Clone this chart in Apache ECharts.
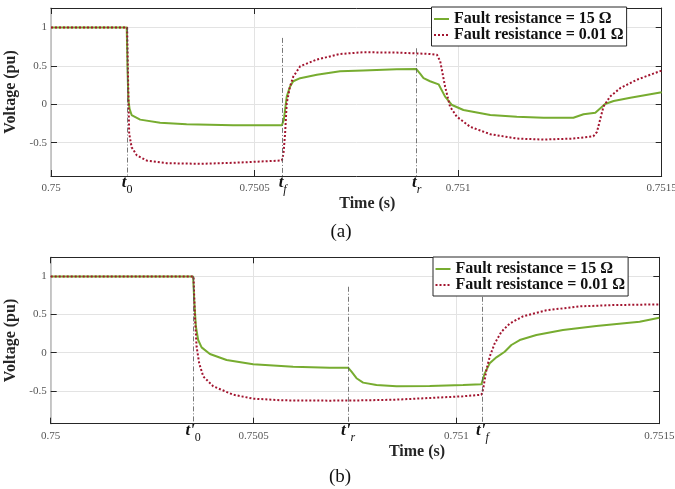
<!DOCTYPE html>
<html>
<head>
<meta charset="utf-8">
<script src="https://cdn.jsdelivr.net/npm/echarts@6/dist/echarts.min.js"></script>
<style>
  html, body { margin: 0; padding: 0; background: #fff; }
  #c { width: 675px; height: 489px; }
</style>
</head>
<body>
<div id="c"></div>
<script>
// ─── values ───────────────────────────────────────────────────────────────────
const xTicks = [0.75, 0.7505, 0.751, 0.7515];
const yTicks = [-0.5, 0, 0.5, 1];
const legendNames = ['Fault resistance = 15 Ω', 'Fault resistance = 0.01 Ω'];

// (a) 15 ohm
const aGreenT = [0.75, 0.750186, 0.750188, 0.75019, 0.750193, 0.750198, 0.750219, 0.750268, 0.750333, 0.750447,
  0.750567, 0.750572, 0.750579, 0.750587, 0.750595, 0.750612, 0.750653, 0.75071, 0.750767, 0.750849,
  0.750897, 0.750907, 0.750915, 0.750931, 0.750952, 0.750968, 0.750985, 0.751013, 0.751079, 0.751144,
  0.75121, 0.751283, 0.751308, 0.751337, 0.751361, 0.751382, 0.751423, 0.7515];
const aGreenV = [1, 1, 0.45, 0.06, -0.06, -0.14, -0.2, -0.24, -0.26, -0.275,
  -0.275, -0.2, 0.1, 0.23, 0.3, 0.34, 0.385, 0.43, 0.44, 0.455,
  0.46, 0.395, 0.34, 0.3, 0.26, 0.1, -0.01, -0.075, -0.14, -0.163,
  -0.175, -0.175, -0.13, -0.11, 0.004, 0.043, 0.086, 0.156];
// (a) 0.01 ohm
const aRedT = [0.75, 0.750187, 0.750189, 0.750192, 0.750198, 0.750211, 0.750235, 0.750284, 0.750366, 0.750448,
  0.750567, 0.750571, 0.750575, 0.750579, 0.750587, 0.750595, 0.750612, 0.750653, 0.75071, 0.750767,
  0.750849, 0.750931, 0.750948, 0.750956, 0.750968, 0.75098, 0.750997, 0.75103, 0.751079, 0.751144,
  0.75121, 0.751283, 0.751332, 0.751341, 0.751357, 0.751373, 0.751398, 0.751439, 0.7515];
const aRedV = [1, 1, 0.4, -0.38, -0.56, -0.667, -0.733, -0.768, -0.776, -0.763,
  -0.733, -0.645, -0.38, 0.013, 0.23, 0.36, 0.495, 0.583, 0.656, 0.678,
  0.674, 0.656, 0.645, 0.56, 0.23, -0.03, -0.163, -0.295, -0.39, -0.447,
  -0.46, -0.447, -0.417, -0.36, -0.03, 0.1, 0.21, 0.32, 0.44];

// (b) 15 ohm
const bGreenT = [0.75, 0.750351, 0.7503537, 0.7503579, 0.7503635, 0.7503719, 0.7503924, 0.7504335, 0.750499, 0.7505975,
  0.7506879, 0.750733, 0.7507414, 0.7507537, 0.75077, 0.750803, 0.7508522, 0.7509342, 0.7510162, 0.7510616,
  0.7510697, 0.751082, 0.7510985, 0.751119, 0.7511354, 0.751156, 0.751197, 0.7512625, 0.7513448, 0.7514515, 0.7515];
const bGreenV = [1, 1, 0.69, 0.34, 0.166, 0.07, -0.017, -0.096, -0.152, -0.183,
  -0.196, -0.196, -0.248, -0.334, -0.392, -0.422, -0.44, -0.435, -0.422, -0.413,
  -0.27, -0.139, -0.061, 0.013, 0.101, 0.166, 0.231, 0.297, 0.349, 0.405, 0.458];
// (b) 0.01 ohm
const bRedT = [0.75, 0.750352, 0.7503554, 0.7503596, 0.750366, 0.7503759, 0.7504005, 0.7504497, 0.750499, 0.7505729,
  0.7506879, 0.75077, 0.7508522, 0.7509342, 0.7510162, 0.7510616, 0.7510655, 0.7510739, 0.751082, 0.7510943,
  0.7511108, 0.7511313, 0.751164, 0.7512216, 0.7513037, 0.7513857, 0.7515];
const bRedV = [1, 1, 0.47, 0.078, -0.138, -0.31, -0.44, -0.55, -0.602, -0.624,
  -0.628, -0.624, -0.615, -0.593, -0.571, -0.55, -0.484, -0.225, -0.052, 0.122,
  0.274, 0.382, 0.477, 0.556, 0.607, 0.624, 0.633];

// event markers (time, where the dash-dot line starts, subscript)
const aMarkT = [0.750187, 0.750569, 0.750898];
const aMarkTop = [1, 0.865, 0.73];
const aMarkSub = ['0', 'f', 'r'];
const bMarkT = [0.750351, 0.750733, 0.751064];
const bMarkTop = [1, 0.864, 0.733];
const bMarkSub = ['0', 'r', 'f'];

const aYRange = [-0.935, 1.255];
const bYRange = [-0.93, 1.25];

// ─── chart ───────────────────────────────────────────────────────────────────
const SERIF = '"Liberation Serif", "Times New Roman", serif';
const INK = '#262626';
const GREEN = '#77AC30';
const RED = '#A2142F';
const zip = (t, v) => t.map((x, i) => [x, v[i]]);

function xAxes(gi, namePad) {
  return [{
    gridIndex: gi, type: 'value', position: 'bottom', min: xTicks[0], max: xTicks[xTicks.length - 1],
    name: 'Time (s)', nameLocation: 'middle', nameGap: 20,
    nameTextStyle: { fontFamily: SERIF, fontSize: 16, fontWeight: 'bold', color: INK, padding: [0, 0, 0, namePad] },
    axisLine: { show: true, onZero: false, lineStyle: { color: INK, width: 1 } },
    axisTick: { inside: true, length: 6, customValues: xTicks, lineStyle: { color: INK } },
    axisLabel: { customValues: xTicks, margin: 7, fontFamily: SERIF, fontSize: 11, color: '#555', formatter: (v) => String(v) },
    splitLine: { show: true, lineStyle: { color: '#e3e3e3' } },
  }, {
    gridIndex: gi, type: 'value', position: 'top', min: xTicks[0], max: xTicks[xTicks.length - 1],
    axisLine: { show: true, onZero: false, lineStyle: { color: INK, width: 1 } },
    axisTick: { inside: true, length: 6, customValues: xTicks, lineStyle: { color: INK } },
    axisLabel: { show: false }, splitLine: { show: false },
  }];
}

function yAxes(gi, range) {
  return [{
    gridIndex: gi, type: 'value', position: 'left', min: range[0], max: range[1],
    name: 'Voltage (pu)', nameLocation: 'middle', nameGap: 29,
    nameTextStyle: { fontFamily: SERIF, fontSize: 16, fontWeight: 'bold', color: INK },
    axisLine: { show: true, onZero: false, lineStyle: { color: '#b8b8b8', width: 1.5 } },
    axisTick: { inside: true, length: 6, customValues: yTicks, lineStyle: { color: INK } },
    axisLabel: { customValues: yTicks, margin: 4, fontFamily: SERIF, fontSize: 11, color: '#555', formatter: (v) => String(v) },
    splitLine: { show: true, lineStyle: { color: '#e3e3e3' } },
  }, {
    gridIndex: gi, type: 'value', position: 'right', min: range[0], max: range[1],
    axisLine: { show: true, onZero: false, lineStyle: { color: INK, width: 1 } },
    axisTick: { inside: true, length: 6, customValues: yTicks, lineStyle: { color: INK } },
    axisLabel: { show: false }, splitLine: { show: false },
  }];
}

function markers(ts, tops, subs, yMin, prime) {
  return {
    silent: true, symbol: 'none', animation: false,
    lineStyle: { color: '#555', width: 0.8, type: [5, 2, 1, 2] },
    label: {
      show: true, position: 'end', distance: 2, formatter: (p) => p.name,
      rich: {
        t: { fontFamily: SERIF, fontSize: 17, fontWeight: 'bold', fontStyle: 'italic', color: '#111', lineHeight: 18, padding: [0, 0, 5, 0], verticalAlign: 'bottom' },
        s: { fontFamily: SERIF, fontSize: 12, fontStyle: 'italic', color: '#111', lineHeight: 12, padding: [12, 0, 0, 0], verticalAlign: 'bottom' },
        n: { fontFamily: SERIF, fontSize: 12, color: '#111', lineHeight: 12, padding: [12, 0, 0, 0], verticalAlign: 'bottom' },
      },
    },
    data: ts.map((t, i) => [
      { name: `{t|t${prime ? "'" : ''}}{${subs[i] === '0' ? 'n' : 's'}|${subs[i]}}`, coord: [t, tops[i]] },
      { coord: [t, yMin] },
    ]),
  };
}

function legend(left, top) {
  return {
    left, top, orient: 'vertical', itemWidth: 15, itemHeight: 10, itemGap: 0,
    padding: [4, 3, 3, 1.5], borderColor: INK, borderWidth: 1, backgroundColor: '#fff',
    itemStyle: { opacity: 0 },
    textStyle: { fontFamily: SERIF, fontSize: 16, fontWeight: 'bold', color: '#111', lineHeight: 15.5 },
    data: legendNames,
  };
}

function pair(xi, yi, gT, gV, rT, rV, mk) {
  const common = { type: 'line', xAxisIndex: xi, yAxisIndex: yi, symbol: 'none', showSymbol: false };
  return [{
    ...common, name: legendNames[0], data: zip(gT, gV),
    lineStyle: { color: GREEN, width: 2 }, itemStyle: { color: GREEN },
    markLine: mk, z: 2,
  }, {
    ...common, name: legendNames[1], data: zip(rT, rV),
    lineStyle: { color: RED, width: 2, type: [2, 2] }, itemStyle: { color: RED },
    z: 3,
  }];
}

const chart = echarts.init(document.getElementById('c'), null, { renderer: 'canvas' });
chart.setOption({
  animation: false,
  backgroundColor: '#fff',
  grid: [
    { left: 51, top: 8, width: 610.7, height: 168, outerBoundsMode: 'none' },
    { left: 50.7, top: 257.3, width: 608.6, height: 166.4, outerBoundsMode: 'none' },
  ],
  xAxis: [...xAxes(0, 22), ...xAxes(1, 124)],
  yAxis: [...yAxes(0, aYRange), ...yAxes(1, bYRange)],
  legend: [legend(431.5, 7), legend(433, 257)],
  series: [
    ...pair(0, 0, aGreenT, aGreenV, aRedT, aRedV, markers(aMarkT, aMarkTop, aMarkSub, aYRange[0], false)),
    ...pair(2, 2, bGreenT, bGreenV, bRedT, bRedV, markers(bMarkT, bMarkTop, bMarkSub, bYRange[0], true)),
  ],
  graphic: [
    { type: 'text', x: 341, y: 232, style: { text: '(a)', font: `19px ${SERIF}`, fill: '#111', align: 'center', verticalAlign: 'middle' } },
    { type: 'text', x: 340, y: 477, style: { text: '(b)', font: `19px ${SERIF}`, fill: '#111', align: 'center', verticalAlign: 'middle' } },
  ],
});
</script>
</body>
</html>
